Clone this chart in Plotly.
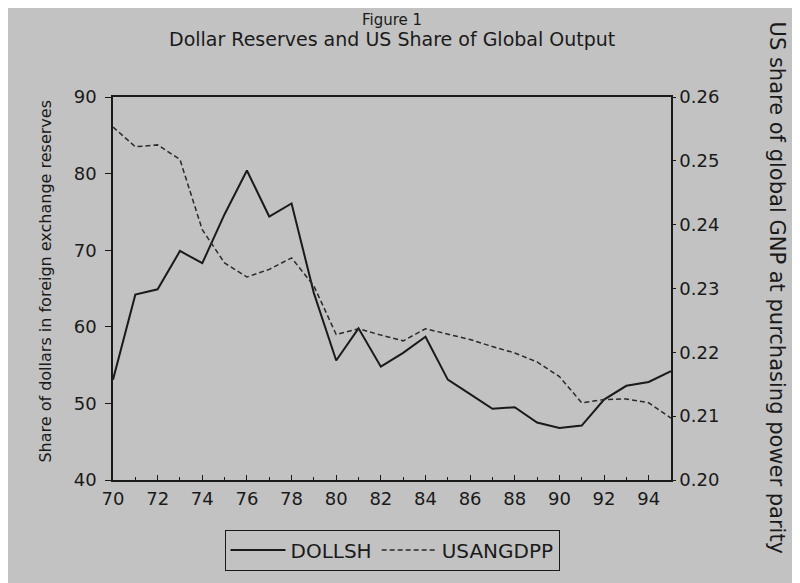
import plotly.graph_objects as go

# annual data
years = list(range(1970, 1996))
dollsh = [53.1, 64.2, 64.9, 69.9, 68.3, 74.7, 80.4, 74.4, 76.1, 64.4,
          55.6, 59.8, 54.8, 56.6, 58.7, 53.1, 51.2, 49.3, 49.5, 47.5,
          46.8, 47.1, 50.5, 52.3, 52.8, 54.2]
usangdpp = [0.2553, 0.2522, 0.2525, 0.2502, 0.2392, 0.2340, 0.2318, 0.2330, 0.2348, 0.2304,
            0.2228, 0.2237, 0.2227, 0.2218, 0.2237, 0.2229, 0.2220, 0.2209, 0.2199, 0.2185,
            0.2162, 0.2121, 0.2126, 0.2127, 0.2121, 0.2097]
xtick_vals = list(range(1970, 1995, 2))
xtick_text = [str(y)[2:] for y in xtick_vals]

BG = '#c2c2c2'
INK = '#1a1a1a'
FONT = 'DejaVu Sans'

# the page body adds an 8px margin, so the figure is a bit smaller than the window
OFF = 8
W, H = 800 - OFF, 583 - OFF
# plot area wanted on screen: x 113..671, y 97..485
L, T = 113 - OFF, 97 - OFF
R, B = W - (671 - OFF), H - (485 - OFF)
plot_w = W - L - R
plot_h = H - T - B


def px_x(x):
    # screen x -> paper x
    return (x - OFF - L) / plot_w


def px_y(y):
    # screen y -> paper y
    return (H - B - (y - OFF)) / plot_h


fig = go.Figure()

fig.add_trace(go.Scatter(
    x=years, y=dollsh, name='DOLLSH', mode='lines',
    line=dict(color=INK, width=2),
))
fig.add_trace(go.Scatter(
    x=years, y=usangdpp, name='USANGDPP', mode='lines', yaxis='y2',
    line=dict(color='#2a2a2a', width=1.5, dash='5px,3px'),
))

fig.update_layout(
    width=W, height=H,
    margin=dict(l=L, r=R, t=T, b=B),
    paper_bgcolor=BG, plot_bgcolor=BG,
    font=dict(family=FONT, color=INK, size=18),
    xaxis=dict(
        range=[1970, 1995], tickvals=xtick_vals, ticktext=xtick_text,
        showgrid=False, zeroline=False,
        showline=True, linecolor=INK, linewidth=1.5, mirror=True,
        ticks='inside', ticklen=5, tickcolor=INK,
        minor=dict(dtick=1, ticks='inside', ticklen=3, tickcolor=INK),
        tickfont=dict(size=18), ticklabelstandoff=2,
    ),
    yaxis=dict(
        range=[40, 90], dtick=10,
        showgrid=False, zeroline=False,
        showline=True, linecolor=INK, linewidth=1.5,
        ticks='outside', ticklen=6, tickcolor=INK,
        tickfont=dict(size=18), ticklabelstandoff=5,
    ),
    yaxis2=dict(
        range=[0.20, 0.26], dtick=0.01, tickformat='.2f',
        overlaying='y', side='right',
        showgrid=False, zeroline=False,
        showline=True, linecolor=INK, linewidth=1.5,
        ticks='outside', ticklen=3, tickcolor=INK,
        tickfont=dict(size=18), ticklabelstandoff=0,
    ),
    showlegend=True,
    legend=dict(
        orientation='h', x=px_x(392), xanchor='center', y=px_y(556), yanchor='middle',
        bgcolor=BG, bordercolor=INK, borderwidth=1,
        font=dict(size=20), itemwidth=55,
    ),
)

# titles
fig.add_annotation(text='Figure 1', xref='paper', yref='paper', xanchor='center', yanchor='middle',
                   x=px_x(392), y=px_y(19), showarrow=False, font=dict(size=15))
fig.add_annotation(text='Dollar Reserves and US Share of Global Output', xref='paper', yref='paper',
                   xanchor='center', yanchor='middle',
                   x=px_x(392), y=px_y(38), showarrow=False, font=dict(size=19))
fig.add_annotation(text='Share of dollars in foreign exchange reserves', xref='paper', yref='paper',
                   xanchor='center', yanchor='middle',
                   x=px_x(46), y=px_y(284), textangle=-90, showarrow=False, font=dict(size=16))
fig.add_annotation(text='US share of global GNP at purchasing power parity', xref='paper', yref='paper',
                   xanchor='center', yanchor='middle',
                   x=px_x(777), y=px_y(290), textangle=90, showarrow=False, font=dict(size=21))

fig.write_html("out.html")
